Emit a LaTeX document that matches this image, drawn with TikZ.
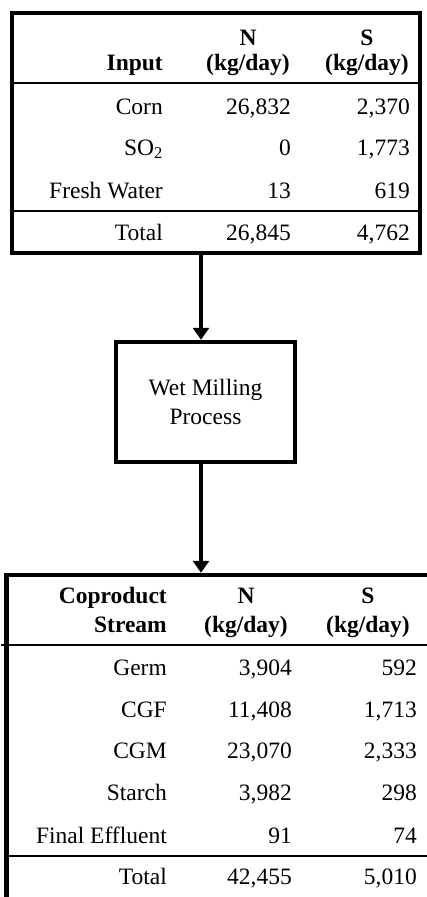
\documentclass[tikz,border=0pt]{standalone}
\usepackage{fontspec}
\setmainfont{Liberation Serif}
\usetikzlibrary{arrows.meta}
\newcommand\tabfont{\fontsize{23.5}{28}\selectfont}
\begin{document}
\begin{tikzpicture}[x=1pt,y=-1pt,
  cell/.style={anchor=base east, inner sep=0pt, font=\tabfont},
  hcell/.style={anchor=base east, inner sep=0pt, font=\tabfont\bfseries},
  hmid/.style={anchor=base, inner sep=0pt, font=\tabfont\bfseries},
  frame/.style={draw, line width=4.5pt, inner sep=0pt},
  procbox/.style={draw, line width=4.5pt, inner sep=0pt, align=center, font=\tabfont},
  rulel/.style={line width=2.5pt},
  flow/.style={line width=4pt, -{Triangle[length=12pt,width=16pt]}}]
\useasboundingbox (0,0) rectangle (427,897);
\clip (0,0) rectangle (427,897);
% frames
\node[frame, minimum width=408pt, minimum height=240pt] (intab) at (216,133) {};
\node[procbox, minimum width=179pt, minimum height=120pt] (proc) at (205.5,402) {Wet Milling\\[1pt]Process};
\node[frame, minimum width=440pt, minimum height=345pt] (outtab) at (226.5,747.5) {};
\coordinate (ax) at (201,0);
% rules
\draw[rulel] (intab.west |- 0,83) -- (intab.east |- 0,83);
\draw[rulel] (intab.west |- 0,211) -- (intab.east |- 0,211);
\draw[rulel] (1,645) -- (outtab.east |- 0,645);
\draw[rulel] (outtab.west |- 0,856) -- (outtab.east |- 0,856);
% arrows
\draw[flow] (intab.south -| ax) -- (proc.north -| ax);
\draw[flow] (proc.south -| ax) -- (outtab.north -| ax);
% input table
\node[hcell] (hin) at (163,70) {Input};
\node[hcell] (hkn1) at (290,70) {(kg/day)};
\node[hcell] (hks1) at (409,70) {(kg/day)};
\node[hmid, yshift=25pt] (hn1) at (hkn1.base) {N};
\node[hmid, yshift=25pt] (hs1) at (hks1.base) {S};
\node[cell] (l1) at (163,114) {Corn};
\node[cell] (n1) at (291,114) {26,832};
\node[cell] (s1) at (410,114) {2,370};
\node[cell] (l2) at (163,155) {SO\textsubscript{2}};
\node[cell] (n2) at (291,155) {0};
\node[cell] (s2) at (410,155) {1,773};
\node[cell] (l3) at (163,198) {Fresh Water};
\node[cell] (n3) at (291,198) {13};
\node[cell] (s3) at (410,198) {619};
\node[cell] (l4) at (163,240) {Total};
\node[cell] (n4) at (291,240) {26,845};
\node[cell] (s4) at (410,240) {4,762};
% output table
\node[hcell] (hco) at (167,603) {Coproduct};
\node[hcell] (hst) at (167,632) {Stream};
\node[hcell] (hkn2) at (288,632) {(kg/day)};
\node[hcell] (hks2) at (410,632) {(kg/day)};
\node[hmid, yshift=29pt] (hn2) at (hkn2.base) {N};
\node[hmid, yshift=29pt] (hs2) at (hks2.base) {S};
\node[cell] (m1) at (167,675) {Germ};
\node[cell] (p1) at (292,675) {3,904};
\node[cell] (q1) at (417,675) {592};
\node[cell] (m2) at (167,717) {CGF};
\node[cell] (p2) at (292,717) {11,408};
\node[cell] (q2) at (417,717) {1,713};
\node[cell] (m3) at (167,758) {CGM};
\node[cell] (p3) at (292,758) {23,070};
\node[cell] (q3) at (417,758) {2,333};
\node[cell] (m4) at (167,800) {Starch};
\node[cell] (p4) at (292,800) {3,982};
\node[cell] (q4) at (417,800) {298};
\node[cell] (m5) at (167,843) {Final Effluent};
\node[cell] (p5) at (292,843) {91};
\node[cell] (q5) at (417,843) {74};
\node[cell] (m6) at (167,884) {Total};
\node[cell] (p6) at (292,884) {42,455};
\node[cell] (q6) at (417,884) {5,010};
\end{tikzpicture}
\end{document}
